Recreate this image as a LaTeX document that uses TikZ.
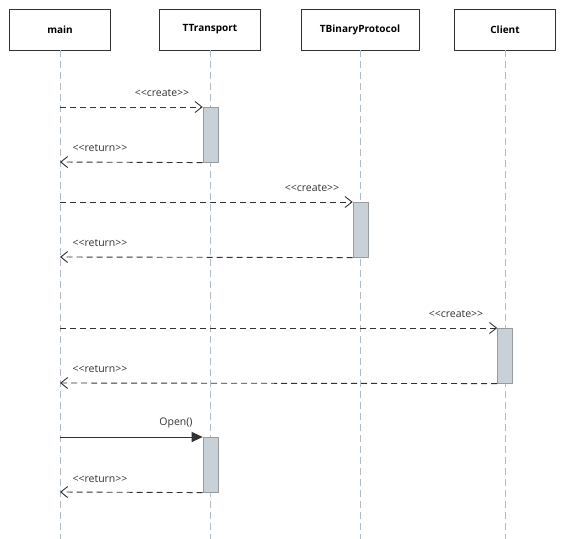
\documentclass[tikz,border=0pt]{standalone}
\usepackage{fontspec}
\setmainfont{Open Sans}
\usetikzlibrary{arrows.meta}
\definecolor{lifeln}{RGB}{175,188,200}
\definecolor{actfill}{RGB}{200,208,216}
\definecolor{actdraw}{RGB}{150,155,160}
\definecolor{msg}{RGB}{50,50,50}
\tikzset{
  x=1pt, y=-1pt,
  objbox/.style={draw=msg, line width=0.9pt, fill=white, minimum width=101pt, minimum height=41pt, inner sep=0pt, font=\fontsize{10}{12}\selectfont\bfseries},
  lifeline/.style={draw=lifeln, line width=0.8pt, dash pattern=on 7pt off 4pt},
  actbox/.style={draw=actdraw, fill=actfill, line width=0.6pt, minimum width=15pt, minimum height=55pt, inner sep=0pt, anchor=north},
  callmsg/.style={draw=msg, line width=0.9pt, dash pattern=on 6pt off 4pt, -{Straight Barb[length=7pt,width=11pt,line width=0.9pt]}},
  retmsg/.style={draw=msg, line width=0.9pt, dash pattern=on 6pt off 4pt, -{Straight Barb[length=7pt,width=11pt,line width=0.9pt]}},
  syncmsg/.style={draw=msg, line width=0.9pt, -{Triangle[length=11pt,width=10pt]}},
  lbl/.style={font=\fontsize{10.5}{12}\selectfont, text=msg, inner sep=1pt}
}
\begin{document}
\begin{tikzpicture}
\useasboundingbox (0,0) rectangle (566,539);
% objects
\node[objbox] (main) at (60,29.5) {main};
\node[objbox] (tt) at (210,29.5) {TTransport};
\node[objbox, minimum width=118pt] (tbp) at (360,29.5) {TBinaryProtocol};
\node[objbox] (cl) at (505,29.5) {Client};
% lifelines
\coordinate (mainE) at (60,539);
\coordinate (ttE) at (210,539);
\coordinate (tbpE) at (360,539);
\coordinate (clE) at (505,539);
\draw[lifeline] (main.south) -- (mainE);
\draw[lifeline] (tt.south) -- (ttE);
\draw[lifeline] (tbp.south) -- (tbpE);
\draw[lifeline] (cl.south) -- (clE);
% activations
\node[actbox] (a1) at (210.5,107) {};
\node[actbox] (a2) at (360.5,202) {};
\node[actbox] (a3) at (505,328) {};
\node[actbox] (a4) at (210.5,437) {};
% message end points on main lifeline
\coordinate (m1) at (60,107);
\coordinate (r1) at (60,162);
\coordinate (m2) at (60,202);
\coordinate (r2) at (60,257);
\coordinate (m3) at (60,328);
\coordinate (r3) at (60,383);
\coordinate (m4) at (60,437);
\coordinate (r4) at (60,492);
% messages
\draw[callmsg] (m1) -- (a1.north west);
\draw[retmsg] (a1.south west) -- (r1);
\draw[callmsg] (m2) -- (a2.north west);
\draw[retmsg] (a2.south west) -- (r2);
\draw[callmsg] (m3) -- (a3.north west);
\draw[retmsg] (a3.south west) -- (r3);
\draw[syncmsg] (m4) -- (a4.north west);
\draw[retmsg] (a4.south west) -- (r4);
% labels
\node[lbl] (l1) at (162,93) {<{}<create>{}>};
\node[lbl] (l2) at (100,148) {<{}<return>{}>};
\node[lbl] (l3) at (312,188) {<{}<create>{}>};
\node[lbl] (l4) at (100,243) {<{}<return>{}>};
\node[lbl] (l5) at (456,314) {<{}<create>{}>};
\node[lbl] (l6) at (100,369) {<{}<return>{}>};
\node[lbl] (l7) at (176,423) {Open()};
\node[lbl] (l8) at (100,479) {<{}<return>{}>};
\end{tikzpicture}
\end{document}
